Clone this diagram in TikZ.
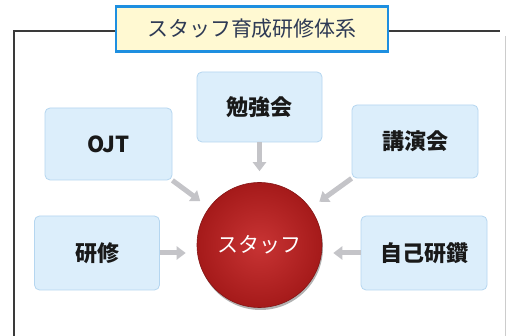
\documentclass[tikz,border=0pt]{standalone}
\usepackage{fontspec}
\newfontfamily\jp{Noto Sans CJK JP}
\usetikzlibrary{arrows.meta,calc}
\definecolor{boxfill}{HTML}{DCEEFB}
\definecolor{boxline}{HTML}{B5D6F0}
\definecolor{titlefill}{HTML}{FFF9D2}
\definecolor{titleline}{HTML}{1E8FE0}
\definecolor{titletext}{HTML}{2E3A55}
\definecolor{arrowgray}{HTML}{C4C4C8}
\definecolor{frameline}{HTML}{3A3A3A}
\definecolor{redin}{HTML}{C83434}
\definecolor{redout}{HTML}{A51A1A}
\tikzset{
  itembox/.style={draw=boxline, line width=0.8pt, fill=boxfill, rounded corners=5pt,
    font=\jp\bfseries\fontsize{22}{22}\selectfont, text=black!90},
  feed/.style={draw=arrowgray, line width=5pt, -{Triangle[width=13pt,length=9pt]}, shorten >=11pt},
}
\begin{document}
\begin{tikzpicture}[x=1pt,y=-1pt]
\useasboundingbox (0,0) rectangle (507,336);
\fill[white] (0,0) rectangle (507,336);
% outer frame
\draw[frameline, line width=1.6pt] (14,336) -- (14,31) -- (500,31);
\draw[gray!40, line width=0.8pt] (505,36) -- (505,336);
% title
\node[draw=titleline, line width=2.8pt, fill=titlefill, minimum width=272pt, minimum height=45pt,
  inner sep=0pt, font=\jp\fontsize{21}{21}\selectfont, text=titletext] (title) at (252,29) {スタッフ育成研修体系};
% boxes
\node[itembox, minimum width=125pt, minimum height=70pt] (benkyo) at (259.5,107) {勉強会};
\node[itembox, minimum width=127pt, minimum height=72pt] (ojt) at (108.5,144) {OJT};
\node[itembox, minimum width=126pt, minimum height=73pt] (koen) at (415,141.5) {講演会};
\node[itembox, minimum width=125pt, minimum height=74pt] (kenshu) at (97,253) {研修};
\node[itembox, minimum width=126pt, minimum height=74pt] (jiko) at (424,253) {自己研鑽};
% circle
\fill[black!60, opacity=0.5] (260.5,247.5) circle (62.5pt);
\node[circle, minimum size=125pt, inner sep=0pt, draw=redout!80!black, line width=0.6pt,
  inner color=redin, outer color=redout, font=\jp\fontsize{21}{21}\selectfont, text=white] (staff) at (259.5,245) {スタッフ};
% arrows
\draw[feed] (benkyo.south) -- (staff);
\draw[feed] (ojt.south east) -- (staff);
\draw[feed] (koen.south west) -- (staff);
\draw[feed] (kenshu.east) -- (kenshu.east -| staff.west);
\draw[feed] (jiko.west) -- (jiko.west -| staff.east);
\end{tikzpicture}
\end{document}
